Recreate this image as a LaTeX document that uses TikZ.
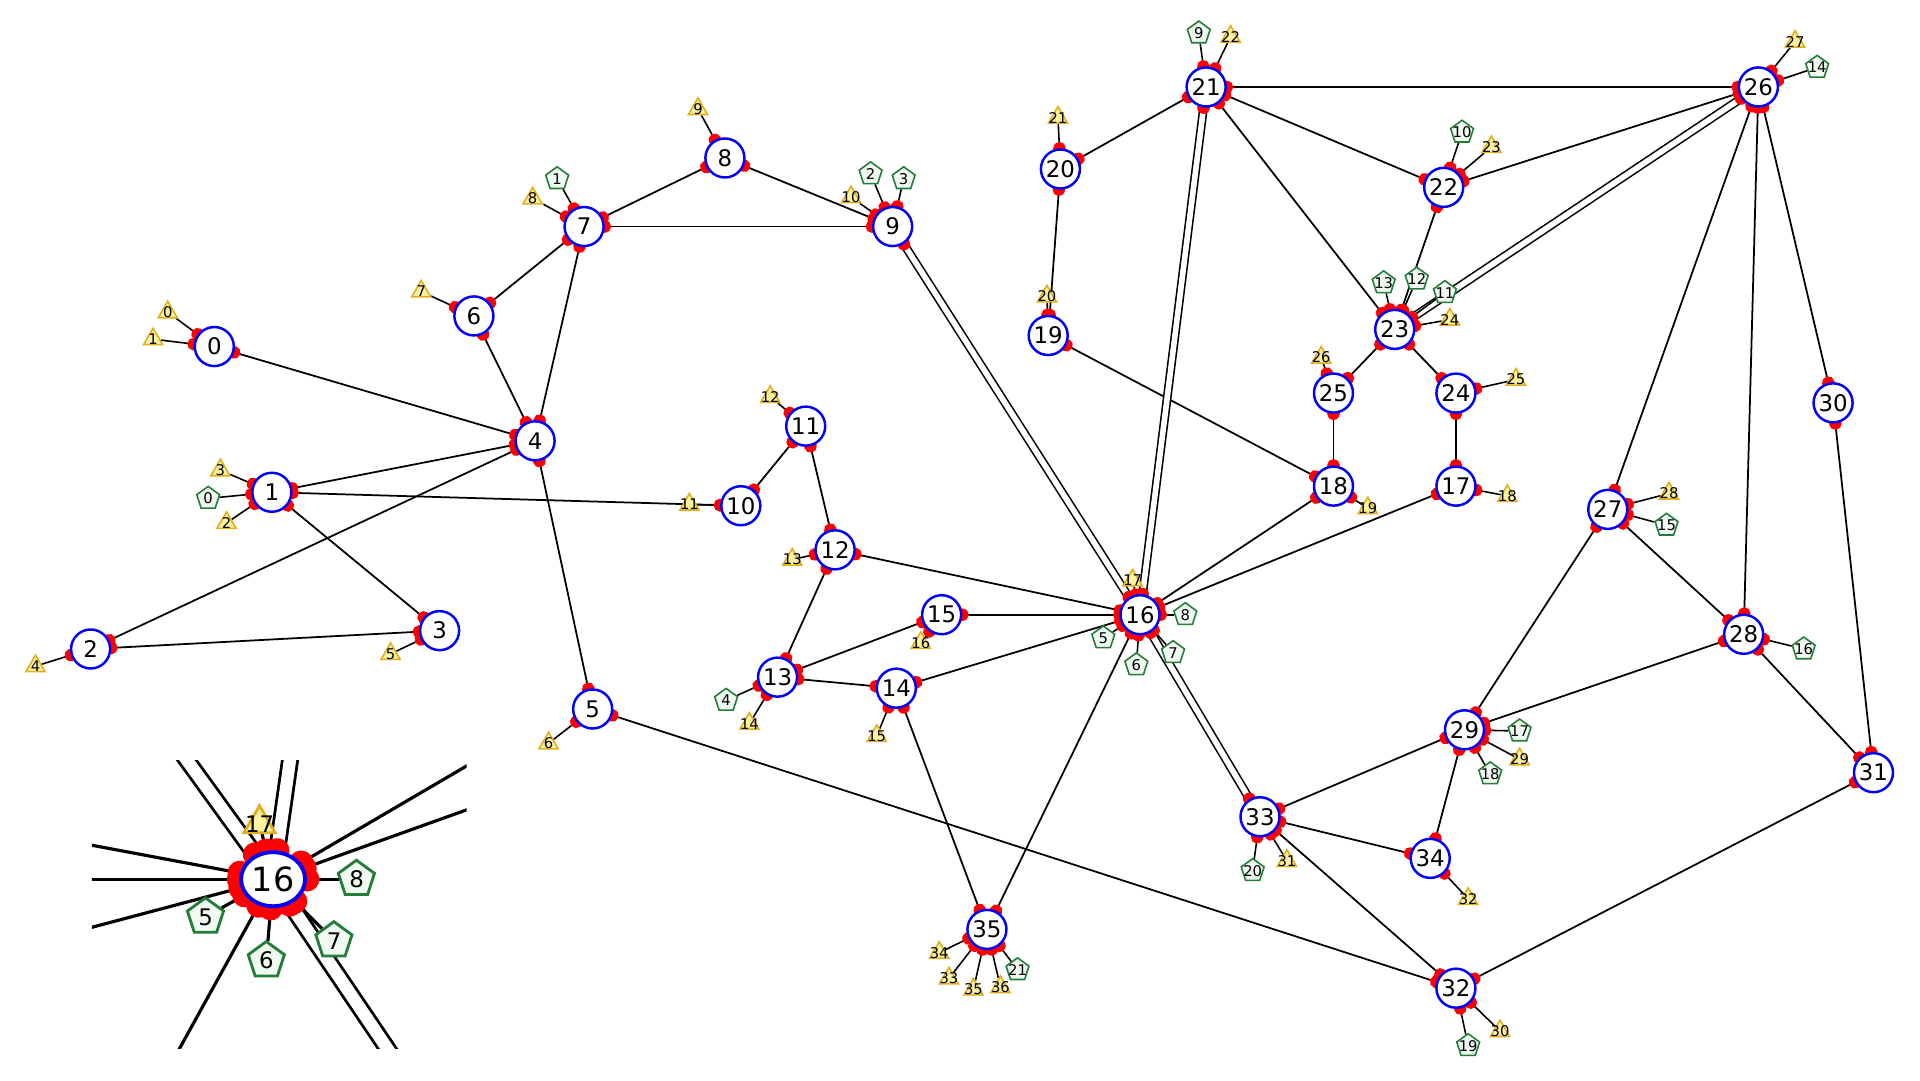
\documentclass[tikz,border=0pt]{standalone}
\usepackage{fontspec}
\setmainfont{DejaVu Sans}
\usetikzlibrary{arrows.meta,shapes.geometric,backgrounds}

\definecolor{trifill}{RGB}{252,242,160}
\definecolor{triline}{RGB}{225,175,30}
\definecolor{pentfill}{RGB}{240,249,242}
\definecolor{pentline}{RGB}{35,125,55}

% vertex / x / y  (picture units)
\def\vertexlist{0/175/283, 1/222/402, 2/74/530, 3/359/515, 4/437/360,
  5/484/579, 6/387/258, 7/477/185, 8/592/129, 9/729/185, 10/605/413,
  11/658/348, 12/682/449, 13/635/553, 14/732/562, 15/769/502, 16/931/502,
  17/1189/397, 18/1089/397, 19/856/274, 20/866/138, 21/985/71, 22/1179/153,
  23/1139/269, 24/1189/321, 25/1089/321, 26/1436/71, 27/1313/416,
  28/1424/518, 29/1196/596, 30/1497/329, 31/1530/631, 32/1189/807,
  33/1029/667, 34/1168/701, 35/806/759}
% label / x / y / owner vertex
\def\trilist{0/137/255/0, 1/125/277/0, 2/185/427/1, 3/180/384/1, 4/29/544/2,
  5/319/534/3, 6/448/607/5, 7/344/238/6, 8/435/162/7, 9/570/89/8,
  10/695/161/9, 11/563/412/10, 12/629/324/11, 13/647/457/12, 14/612/591/13,
  15/716/601/14, 16/752/525/15, 17/925/474/16, 18/1231/405/17,
  19/1117/415/18, 20/855/242/19, 21/864/96/20, 22/1005/30/21,
  23/1218/120/22, 24/1184/261/23, 25/1238/310/24, 26/1079/292/25,
  27/1466/34/26, 28/1363/403/27, 29/1241/620/29, 30/1225/842/32,
  31/1051/703/33, 32/1199/734/34, 33/775/799/35, 34/767/778/35,
  35/795/808/35, 36/817/806/35}
\def\pentlist{0/170/407/1, 1/455/146/7, 2/711/142/9, 3/738/146/9,
  4/593/572/13, 5/901/521/16, 6/928/543/16, 7/958/533/16, 8/968/502/16,
  9/979/27/21, 10/1194/108/22, 11/1180/239/23, 12/1157/228/23,
  13/1130/231/23, 14/1484/55/26, 15/1361/429/27, 16/1473/530/28,
  17/1241/597/29, 18/1217/632/29, 19/1199/854/32, 20/1023/711/33,
  21/831/792/35}

\begin{document}
\begin{tikzpicture}[
  x=0.012245cm, y=-0.012245cm,
  vertex/.style={circle, draw=blue, fill=white, line width=0.7pt,
    minimum size=0.39cm, inner sep=0pt, font=\fontsize{6.5}{7}\selectfont},
  mtext/.style={inner sep=0pt, font=\fontsize{4.2}{5}\selectfont},
  tri/.style={regular polygon, regular polygon sides=3, draw=triline,
    fill=trifill, line width=0.45pt, minimum size=0.22cm, inner sep=0pt,
    label={[mtext]center:#1}},
  pent/.style={regular polygon, regular polygon sides=5, draw=pentline,
    fill=pentfill, line width=0.45pt, minimum size=0.24cm, inner sep=0pt,
    label={[mtext]center:#1}},
  ports/.style={{Circle[red,length=3.6pt]}-{Circle[red,length=3.6pt]},
    shorten <=-1.8pt, shorten >=-1.8pt},
  link/.style={ports, draw=black, line width=0.5pt},
  dbllink/.style={draw=black, line width=0.45pt, double=white,
    double distance=1.6pt},
  stem/.style={draw=black, line width=0.45pt, -{Circle[red,length=3.6pt]},
    shorten >=-1.8pt},
  % magnified copy of hub 16
  zoomed/.style={shift={(223,718)}, xscale=1.84, yscale=1.62,
    shift={(-931,-502)}},
  hubzoom/.style={ellipse, draw=blue, fill=white, line width=1.1pt,
    minimum width=0.64cm, minimum height=0.54cm, inner sep=0pt,
    font=\fontsize{9.5}{11}\selectfont},
  ztext/.style={inner sep=0pt, font=\fontsize{6.5}{7}\selectfont},
  ztri/.style={regular polygon, regular polygon sides=3, draw=triline,
    fill=trifill, line width=0.8pt, minimum size=0.36cm, inner sep=0pt,
    label={[ztext]center:#1}},
  zpent/.style={regular polygon, regular polygon sides=5, draw=pentline,
    fill=pentfill, line width=0.8pt, minimum size=0.38cm, inner sep=0pt,
    label={[ztext]center:#1}},
  zports/.style={white, line width=0.5pt, -{Circle[red,length=7pt]},
    shorten >=-3.5pt},
  zlink/.style={draw=black, line width=0.9pt, -{Circle[red,length=7pt]},
    shorten >=-3.5pt},
  zdbl/.style={draw=black, line width=0.8pt, double=white,
    double distance=3.5pt},
]
\useasboundingbox (0,0) rectangle (1568,882);

%---------- vertices and markers ----------
\foreach \n/\x/\y in \vertexlist {
  \node[vertex] (n\n) at (\x,\y) {\n};
}
\foreach \t/\x/\y/\n in \trilist {
  \node[tri=\t] (t\t) at (\x,\y) {};
}
\foreach \t/\x/\y/\n in \pentlist {
  \node[pent=\t] (p\t) at (\x,\y) {};
}

%---------- connectors (behind the vertices) ----------
\begin{scope}[on background layer]
  \fill[white] (0,0) rectangle (1568,882);
  \foreach \a/\b in {0/4, 1/4, 1/10, 1/3, 2/4, 2/3, 4/6, 4/7, 4/5, 6/7,
    7/8, 7/9, 8/9, 10/11, 11/12, 12/13, 12/16, 13/15, 13/14, 14/16, 14/35,
    15/16, 16/18, 16/17, 16/35, 5/32, 19/20, 19/18, 20/21, 21/26, 21/22,
    21/23, 22/26, 22/23, 23/25, 23/24, 25/18, 24/17, 26/27, 26/28, 26/30,
    27/29, 27/28, 28/29, 28/31, 30/31, 29/33, 29/34, 33/34, 33/32, 32/31}{
    \draw[link] (n\a) -- (n\b);
  }
  \foreach \a/\b in {9/16, 21/16, 16/33, 23/26}{
    \draw[dbllink] (n\a) -- (n\b);
    \draw[ports, white, line width=0.3pt] (n\a) -- (n\b);
  }
  \foreach \t/\x/\y/\n in \trilist {
    \draw[stem] (t\t) -- (n\n);
  }
  \foreach \t/\x/\y/\n in \pentlist {
    \draw[stem] (p\t) -- (n\n);
  }
\end{scope}

%---------- inset: hub 16 magnified ----------
\begin{scope}[zoomed]
  \foreach \n/\x/\y in \vertexlist {
    \coordinate (z\n) at (\x,\y);
  }
  \node[hubzoom] (z16) at (931,502) {16};
  \node[ztri=17] (zt17) at (925,474) {};
  \foreach \p/\x/\y in {5/901/521, 6/928/543, 7/958/533, 8/968/502}{
    \node[zpent=\p] (zp\p) at (\x,\y) {};
  }
\end{scope}
\begin{scope}[on background layer]
  \clip (75,621) rectangle (381,856);
  \foreach \m in {12,14,15,17,18,35}{
    \draw[zlink] (z\m) -- (z16);
  }
  \foreach \m in {9,21,33}{
    \draw[zdbl] (z\m) -- (z16);
    \draw[zports] (z\m) -- (z16);
  }
  \foreach \p in {5,6,7,8}{
    \draw[zlink] (zp\p) -- (z16);
  }
  \draw[zlink] (zt17) -- (z16);
\end{scope}

\end{tikzpicture}
\end{document}
